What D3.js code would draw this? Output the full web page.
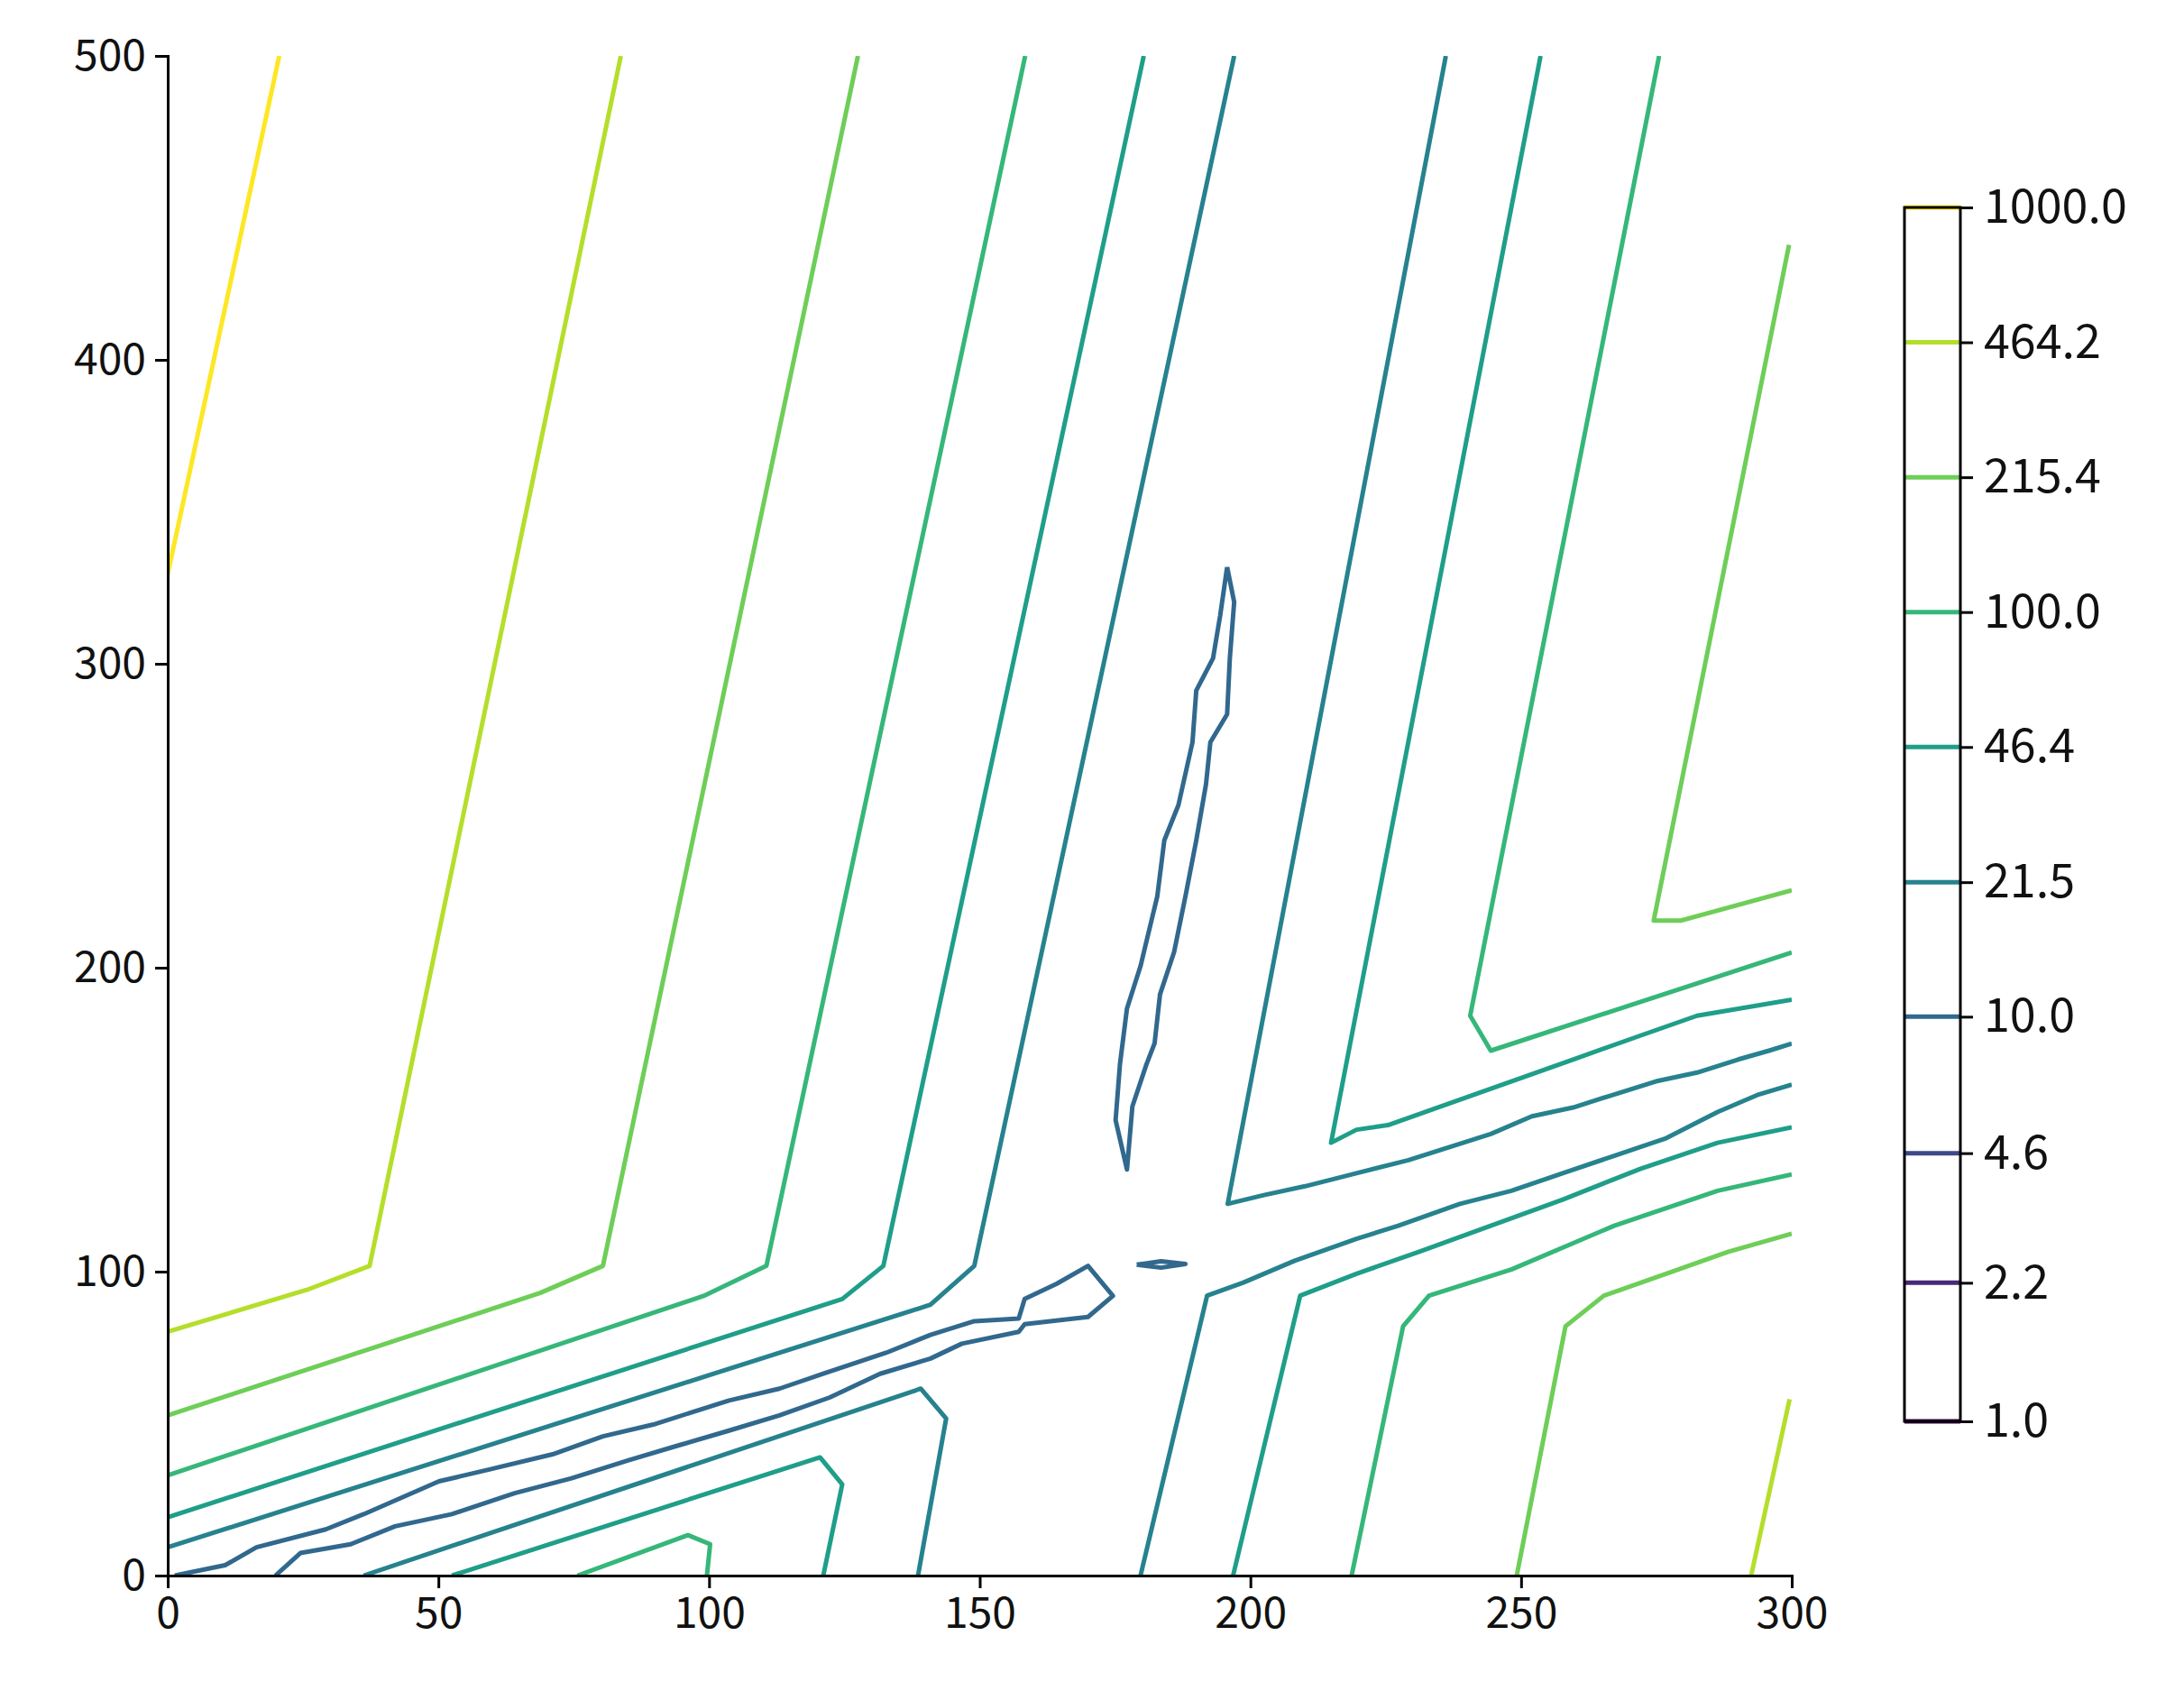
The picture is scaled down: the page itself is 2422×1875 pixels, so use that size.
<!DOCTYPE html>
<html><head><meta charset="utf-8">
<script src="https://cdn.jsdelivr.net/npm/d3@7"></script>
<style>body{margin:0;background:#fff}</style></head>
<body><svg id="c" width="2422" height="1875"></svg>
<script>
const levels = [1.0, 2.2, 4.6, 10.0, 21.5, 46.4, 100.0, 215.4, 464.2, 1000.0];
const levelLabels = ["1.0","2.2","4.6","10.0","21.5","46.4","100.0","215.4","464.2","1000.0"];
const xTicks = [0,50,100,150,200,250,300];
const yTicks = [0,100,200,300,400,500];

// contour polylines [x,y] in data coords, with their level
const lineA_1000 = [[0,329.5],[20.6,500]];
const lineB_464 = [[0,80.2],[25.7,94],[37.3,101.9],[83.7,500]];
const lineC_215 = [[0,52.7],[68.8,93],[80.4,101.9],[127.5,500]];
const lineD_100 = [[0,33],[99,92],[110.6,101.9],[158.4,500]];
const lineE_46 = [[0,19.2],[124.6,91],[132.2,101.9],[180.3,500]];
const lineF_21 = [[0,9.3],[140.9,89.1],[149,101.9],[197,500]];
const lineW_10 = [[1.3,0],[10.6,3.4],[16.4,9.3],[29.2,15.2],[36.2,20.2],[50.1,31],[59.4,34.9],[71.1,39.9],[80.4,45.8],[89.7,49.7],[103.7,57.6],[113,61.5],[121.1,66.4],[132.7,73.3],[140.9,79.2],[149,83.7],[157.2,84.6],[158.3,91.0],[164.2,96.0],[170,101.9],[174.6,92.0],[170,85.1],[158.3,82.7],[157.2,80.2],[146.7,76.3],[140.9,71.4],[131.6,66.4],[122.3,58.6],[113,52.7],[103.7,47.7],[94.3,42.8],[85,37.9],[74.6,32],[64.1,27.1],[52.5,20.2],[42,16.2],[33.8,10.3],[24.5,7.4],[19.9,0]];
const blob_10 = [[195.7,331.8],[194.4,315.7],[193.1,301.8],[190,291.2],[189.3,274.2],[186.7,253.5],[184.1,241.9],[182.8,223.5],[179.7,200.5],[177.2,186.6],[175.9,168.2],[175.1,149.8],[177.2,133.6],[178.2,154.4],[180.8,168.2],[182.3,175.1],[183.3,191.2],[185.9,205.1],[188,223.5],[190,241.9],[191.8,260.4],[192.6,274.2],[195.7,283.4],[196.2,301.8],[197,320.3],[195.7,331.8]];
const dash_10 = [[179,102.3],[183.5,103.4],[188,102.5],[183.5,101.3],[179,102.3]];
const lineUR1_21 = [[236.1,500],[195.8,122.3],[202.5,125.2],[210.1,128.1],[219.6,132.4],[229.2,136.7],[236.8,141],[244.4,145.3],[252,151.1],[259.6,154],[267.2,158.3],[274.9,162.6],[282.5,165.5],[290.1,169.8],[295.8,172.7],[300,175]];
const lineUR2_46 = [[253.6,500],[214.9,142.4],[219.6,146.7],[225.4,148.2],[236.8,155.4],[248.2,162.6],[259.6,169.8],[271,177],[282.5,184.2],[300,189.5]];
const lineUR3_100 = [[275.5,500],[240.6,184.2],[244.4,172.7],[300,205]];
const lineUR4_215 = [[299.5,437.8],[274.5,215.5],[279.5,215.5],[300,225.5]];
const lineLR1_21 = [[179.7,0],[192,92.1],[198.7,96.4],[208.2,103.6],[219.6,110.8],[227.3,115.1],[238.7,122.3],[248.2,126.6],[257.7,132.4],[267.2,138.1],[276.8,143.9],[286.3,152.5],[293.9,158.3],[300,161.5]];
const lineLR2_46 = [[196.8,0],[209.2,92.1],[219.6,99.3],[231.1,106.5],[244.4,115.1],[257.7,123.7],[272,133.8],[286.3,142.4],[300,147.5]];
const lineLR3_100 = [[218.7,0],[228.2,82],[233,92.1],[248.2,100.7],[267.2,115.1],[286.3,126.6],[300,132]];
const lineLR4_215 = [[249.2,0],[258.2,82],[265.3,92.1],[276.8,99.3],[288.2,106.5],[300,112.5]];
const lineLR5_464 = [[292.5,0],[299.6,58]];
const lineLL1_21 = [[36.2,0],[139.1,61.5],[143.8,51.7],[138.6,0]];
const lineLL2_46 = [[52.5,0],[120.5,38.9],[124.6,30],[121.1,0]];
const lineLL3_100 = [[75.7,0],[96.1,13.3],[100.2,10.3],[99.6,0]];

const contours = [
  {level:1000.0, pts:lineA_1000},{level:464.2, pts:lineB_464},{level:215.4, pts:lineC_215},
  {level:100.0, pts:lineD_100},{level:46.4, pts:lineE_46},{level:21.5, pts:lineF_21},
  {level:10.0, pts:lineW_10},{level:10.0, pts:blob_10},{level:10.0, pts:dash_10},
  {level:21.5, pts:lineUR1_21},{level:46.4, pts:lineUR2_46},{level:100.0, pts:lineUR3_100},{level:215.4, pts:lineUR4_215},
  {level:21.5, pts:lineLR1_21},{level:46.4, pts:lineLR2_46},{level:100.0, pts:lineLR3_100},{level:215.4, pts:lineLR4_215},{level:464.2, pts:lineLR5_464},
  {level:21.5, pts:lineLL1_21},{level:46.4, pts:lineLL2_46},{level:100.0, pts:lineLL3_100}
];

const svg = d3.select("#c");
const font = "'Noto Sans CJK SC', 'Liberation Sans', sans-serif";
const L=186,R=1987,T=62,B=1747;
const x = d3.scaleLinear().domain([0,300]).range([L,R]);
const y = d3.scaleLinear().domain([0,500]).range([B,T]);
const cidx = d3.scaleLog().domain([1,1000]).range([0,1]);
const color = v => d3.interpolateViridis(cidx(v));

const line = d3.line().x(d=>x(d[0])).y(d=>y(d[1]));
svg.append("defs").append("clipPath").attr("id","clip").append("rect")
  .attr("x",L).attr("y",T).attr("width",R-L).attr("height",B-T);
svg.append("g").attr("clip-path","url(#clip)").selectAll("path").data(contours).join("path")
  .attr("d",d=>line(d.pts)).attr("fill","none").attr("stroke",d=>color(d.level))
  .attr("stroke-width",5).attr("stroke-linejoin","round");

const xa = svg.append("g").attr("transform",`translate(0,${B})`)
  .call(d3.axisBottom(x).tickValues(xTicks).tickFormat(d3.format("d")).tickSizeOuter(0).tickSize(14).tickPadding(10));
const ya = svg.append("g").attr("transform",`translate(${L},0)`)
  .call(d3.axisLeft(y).tickValues(yTicks).tickFormat(d3.format("d")).tickSizeOuter(0).tickSize(14).tickPadding(10));
[xa,ya].forEach(a=>{a.selectAll("path,line").attr("stroke","#000").attr("stroke-width",3);
  a.selectAll("text").attr("font-family",font).attr("font-size",48).attr("fill","#111");});

// colorbar
const cbX=2112, cbW=62, cbT=230, cbB=1576;
const cy = d3.scaleLog().domain([1,1000]).range([cbB,cbT]);
const cb = svg.append("g");
cb.selectAll("line.lv").data(levels).join("line").attr("class","lv")
  .attr("x1",cbX).attr("x2",cbX+cbW).attr("y1",d=>cy(d)).attr("y2",d=>cy(d))
  .attr("stroke",d=>color(d)).attr("stroke-width",5);
cb.append("rect").attr("x",cbX).attr("y",cbT).attr("width",cbW).attr("height",cbB-cbT)
  .attr("fill","none").attr("stroke","#000").attr("stroke-width",3);
const ca = cb.append("g").attr("transform",`translate(${cbX+cbW},0)`)
  .call(d3.axisRight(cy).tickValues(levels).tickFormat((d,i)=>levelLabels[i]).tickSize(14).tickPadding(12));
ca.select("path").remove();
ca.selectAll("line").attr("stroke","#000").attr("stroke-width",3);
ca.selectAll("text").attr("font-family",font).attr("font-size",52).attr("fill","#111");
</script></body></html>
